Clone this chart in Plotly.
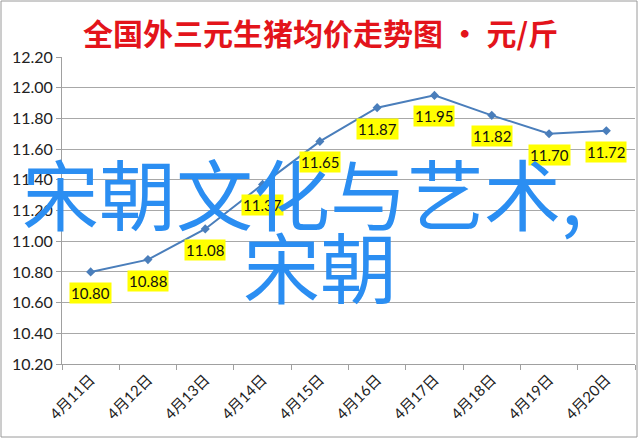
import plotly.graph_objects as go

# 日期与均价（元/斤）
dates = ["4月11日", "4月12日", "4月13日", "4月14日", "4月15日",
         "4月16日", "4月17日", "4月18日", "4月19日", "4月20日"]
prices = [10.80, 10.88, 11.08, 11.37, 11.65, 11.87, 11.95, 11.82, 11.70, 11.72]
ytick_vals = [10.2, 10.4, 10.6, 10.8, 11.0, 11.2, 11.4, 11.6, 11.8, 12.0, 12.2]

title_text = "<b>全国外三元生猪均价走势图 · 元/斤</b>"
overlay_line1 = "宋朝文化与艺术,"
overlay_line2 = "宋朝"

W, H = 640, 439
ML, MR, MT, MB = 62, 5, 57, 75
plot_w = W - ML - MR
plot_h = H - MT - MB

fig = go.Figure()

fig.add_trace(go.Scatter(
    x=dates,
    y=prices,
    mode="lines+markers",
    line=dict(color="#4a7ebb", width=2),
    marker=dict(symbol="diamond", size=7, color="#4a7ebb"),
    showlegend=False,
))

# 数据标签（黄色底）
annotations = []
for d, p in zip(dates, prices):
    annotations.append(dict(
        x=d, y=p, xref="x", yref="y",
        text=f"{p:.2f}", showarrow=False,
        yshift=-21, bgcolor="#ffff00", borderpad=1,
        font=dict(family="Lato, Noto Sans CJK SC", size=15, color="#111111"),
    ))

# 标题
annotations.append(dict(
    x=(320 - ML) / plot_w, y=1 + (MT - 32) / plot_h,
    xref="paper", yref="paper", xanchor="center", yanchor="middle",
    text=title_text, showarrow=False,
    font=dict(family="Noto Sans CJK SC", size=30, color="#e3141b"),
))

# 叠加的大字
annotations.append(dict(
    x=(302 - ML) / plot_w, y=(364 - 191) / plot_h, xref="paper", yref="paper",
    xanchor="center", yanchor="middle",
    text=overlay_line1, showarrow=False,
    font=dict(family="Noto Sans CJK SC", size=77, color="#2b8ef2"),
))
annotations.append(dict(
    x=(320 - ML) / plot_w, y=(364 - 264) / plot_h, xref="paper", yref="paper",
    xanchor="center", yanchor="middle",
    text=overlay_line2, showarrow=False,
    font=dict(family="Noto Sans CJK SC", size=77, color="#2b8ef2"),
))

fig.update_layout(
    width=W,
    height=H,
    margin=dict(l=ML, r=MR, t=MT, b=MB),
    paper_bgcolor="white",
    plot_bgcolor="white",
    font=dict(family="Lato, Noto Sans CJK SC", color="#222222"),
    annotations=annotations,
    xaxis=dict(
        type="category",
        tickson="boundaries",
        ticks="outside",
        ticklen=5,
        tickcolor="#a0a0a0",
        showline=True,
        linecolor="#a0a0a0",
        showgrid=False,
        tickangle=-45,
        tickfont=dict(size=15, color="#222222", family="Lato, Noto Sans CJK SC"),
        range=[-0.5, 9.5],
        automargin=False,
    ),
    yaxis=dict(
        range=[10.2, 12.2],
        tickvals=ytick_vals,
        tickformat=".2f",
        ticks="outside",
        ticklen=5,
        tickcolor="#a0a0a0",
        showline=True,
        linecolor="#a0a0a0",
        gridcolor="#a8a8a8",
        gridwidth=1,
        zeroline=False,
        tickfont=dict(size=16, color="#222222"),
        automargin=False,
    ),
)

# 外框
fig.add_shape(
    type="rect", xref="paper", yref="paper",
    x0=(1 - ML) / plot_w, x1=(637 - ML) / plot_w,
    y0=(364 - 437) / plot_h, y1=(364 - 1) / plot_h,
    line=dict(color="#9a9a9a", width=1),
)

# 去掉页面默认边距，让图从左上角开始；不显示工具栏
fig.write_html("out.html", config={"displayModeBar": False},
               post_script="document.body.style.margin='0';")
